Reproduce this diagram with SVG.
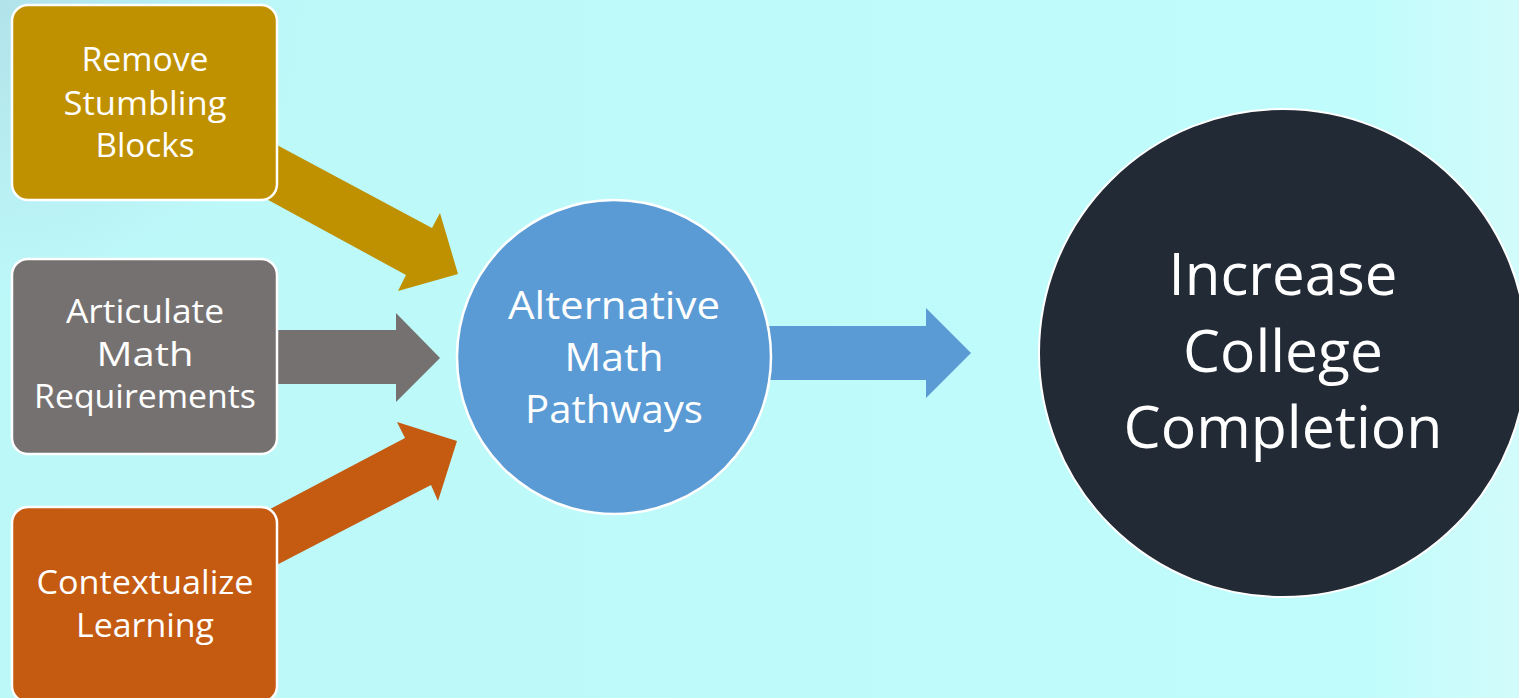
<svg xmlns="http://www.w3.org/2000/svg" width="1519" height="698" viewBox="0 0 1519 698">
<defs>
<linearGradient id="bg" x1="0" y1="0" x2="1" y2="0">
<stop offset="0" stop-color="#BDF8F9"/>
<stop offset="0.9" stop-color="#C0FCFB"/>
<stop offset="1" stop-color="#D3FBFB"/>
</linearGradient>
<radialGradient id="tl" cx="0" cy="0" r="300" gradientUnits="userSpaceOnUse">
<stop offset="0" stop-color="#AEDDE6" stop-opacity="0.8"/>
<stop offset="1" stop-color="#AEDDE6" stop-opacity="0"/>
</radialGradient>
</defs>
<style>
.box{stroke:#FFFFFF;stroke-width:2.5}
.lbl{font-family:"Open Sans","Noto Sans","DejaVu Sans",sans-serif;fill:#FFFFFF;text-anchor:middle}
.s{font-size:32px}
.m{font-size:39px}
.l{font-size:59px}
</style>
<rect x="0" y="0" width="1519" height="698" fill="url(#bg)"/>
<rect x="0" y="0" width="400" height="300" fill="url(#tl)"/>
<g id="connectors">
<polygon points="262,137 432,228 440,213 458,274 398,291 406,275 250,190" fill="#BF9000"/>
<polygon points="270,330 396,330 396,313 440,358 396,402 396,384 270,384" fill="#767171"/>
<polygon points="255,517 405,438 397,422 457,441 438,501 431,485 265,571" fill="#C55A11"/>
<polygon points="760,326 926,326 926,308 971,353 926,398 926,380 760,380" fill="#5B9BD5"/>
</g>
<g id="node-remove">
<rect class="box" x="12" y="5" width="265" height="195" rx="16" fill="#BF9000"/>
<text class="lbl s"><tspan x="145" y="71" textLength="127" lengthAdjust="spacingAndGlyphs">Remove</tspan><tspan x="145" y="115" textLength="163" lengthAdjust="spacingAndGlyphs">Stumbling</tspan><tspan x="145" y="157" textLength="99" lengthAdjust="spacingAndGlyphs">Blocks</tspan></text>
</g>
<g id="node-articulate">
<rect class="box" x="12" y="259" width="265" height="195" rx="16" fill="#767171"/>
<text class="lbl s"><tspan x="145" y="323" textLength="158" lengthAdjust="spacingAndGlyphs">Articulate</tspan><tspan x="145" y="366" textLength="97" lengthAdjust="spacingAndGlyphs">Math</tspan><tspan x="145" y="408" textLength="222" lengthAdjust="spacingAndGlyphs">Requirements</tspan></text>
</g>
<g id="node-contextualize">
<rect class="box" x="12" y="507" width="265" height="195" rx="16" fill="#C55A11"/>
<text class="lbl s"><tspan x="145" y="594" textLength="217" lengthAdjust="spacingAndGlyphs">Contextualize</tspan><tspan x="145" y="637" textLength="138" lengthAdjust="spacingAndGlyphs">Learning</tspan></text>
</g>
<g id="node-alternative">
<circle cx="614" cy="357" r="157" fill="#5B9BD5" stroke="#FFFFFF" stroke-width="2.5"/>
<text class="lbl m"><tspan x="614" y="319" textLength="212" lengthAdjust="spacingAndGlyphs">Alternative</tspan><tspan x="614" y="371" textLength="99" lengthAdjust="spacingAndGlyphs">Math</tspan><tspan x="614" y="423" textLength="178" lengthAdjust="spacingAndGlyphs">Pathways</tspan></text>
</g>
<g id="node-increase">
<circle cx="1283" cy="353" r="244" fill="#222A35" stroke="#FFFFFF" stroke-width="2"/>
<text class="lbl l"><tspan x="1283" y="295" textLength="229" lengthAdjust="spacingAndGlyphs">Increase</tspan><tspan x="1283" y="372" textLength="200" lengthAdjust="spacingAndGlyphs">College</tspan><tspan x="1283" y="448" textLength="319" lengthAdjust="spacingAndGlyphs">Completion</tspan></text>
</g>
</svg>
